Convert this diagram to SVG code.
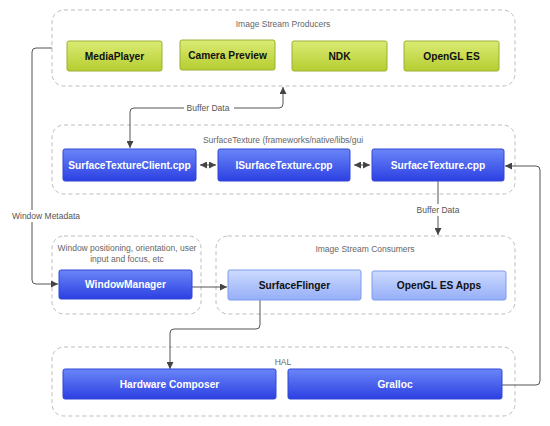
<svg xmlns="http://www.w3.org/2000/svg" width="550" height="426" viewBox="0 0 550 426">
<defs>
<linearGradient id="gGreen" x1="0" y1="0" x2="0" y2="1"><stop offset="0" stop-color="#dbeb74"/><stop offset="1" stop-color="#b6cd30"/></linearGradient>
<linearGradient id="gBlue" x1="0" y1="0" x2="0" y2="1"><stop offset="0" stop-color="#6a86f8"/><stop offset="1" stop-color="#2c3fe2"/></linearGradient>
<linearGradient id="gLight" x1="0" y1="0" x2="0" y2="1"><stop offset="0" stop-color="#cddbff"/><stop offset="1" stop-color="#95aef7"/></linearGradient>
<marker id="arr" viewBox="0 0 10 10" refX="10" refY="5" markerWidth="7" markerHeight="7" orient="auto-start-reverse" markerUnits="userSpaceOnUse"><path d="M0,0 L10,5 L0,10 z" fill="#444"/></marker>
</defs>
<style>
.cont{fill:#fff;stroke:#bdbdbd;stroke-width:1;stroke-dasharray:4 3}
.ctitle{font-family:"Liberation Sans",Arial,sans-serif;font-size:8.5px;fill:#666;text-anchor:middle}
.green{fill:url(#gGreen);stroke:#9cb034;stroke-width:1}
.blue{fill:url(#gBlue);stroke:#3346d6;stroke-width:1}
.light{fill:url(#gLight);stroke:#7f9bee;stroke-width:1}
.t{font-family:"Liberation Sans",Arial,sans-serif;font-size:10.2px;font-weight:bold;text-anchor:middle}
.tw{fill:#fff}
.tk{fill:#111}
.conn{fill:none;stroke:#555;stroke-width:1}
.lbl{font-family:"Liberation Sans",Arial,sans-serif;font-size:8.5px;fill:#555;text-anchor:middle}
</style>
<rect width="550" height="426" fill="#fff"/>

<g id="producers">
<rect class="cont" x="52" y="10" width="463" height="76" rx="12"/>
<text class="ctitle" x="283" y="27">Image Stream Producers</text>
</g>
<g id="surfacetexture-group">
<rect class="cont" x="52" y="125" width="463" height="69" rx="12"/>
<text class="ctitle" x="283" y="143">SurfaceTexture (frameworks/native/libs/gui</text>
</g>
<g id="window-group">
<rect class="cont" x="52" y="236" width="149" height="78" rx="12"/>
<text class="ctitle" x="127" y="251">Window positioning, orientation, user</text>
<text class="ctitle" x="127" y="262">input and focus, etc</text>
</g>
<g id="consumers">
<rect class="cont" x="216" y="236" width="299" height="78" rx="12"/>
<text class="ctitle" x="365" y="252">Image Stream Consumers</text>
</g>
<g id="hal">
<rect class="cont" x="52" y="347" width="463" height="69" rx="12"/>
<text class="ctitle" x="283" y="365">HAL</text>
</g>

<g id="connectors">
<path class="conn" d="M52,48 H36 Q32,48 32,52 V280 Q32,284 36,284 H58" marker-end="url(#arr)"/>
<rect x="12" y="210" width="70" height="12" fill="#fff"/>
<text class="lbl" x="46" y="219">Window Metadata</text>

<path class="conn" d="M130,148 V112 Q130,108 134,108 H279 Q283,108 283,104 V87" marker-start="url(#arr)" marker-end="url(#arr)"/>
<rect x="184" y="102" width="50" height="12" fill="#fff"/>
<text class="lbl" x="208" y="111">Buffer Data</text>

<path class="conn" d="M200,165 H216" marker-start="url(#arr)" marker-end="url(#arr)"/>
<path class="conn" d="M354,165 H370" marker-start="url(#arr)" marker-end="url(#arr)"/>

<path class="conn" d="M438,181 V235" marker-end="url(#arr)"/>
<rect x="414" y="204" width="48" height="12" fill="#fff"/>
<text class="lbl" x="438" y="213">Buffer Data</text>

<path class="conn" d="M502,385 H536 Q540,385 540,381 V170 Q540,166 536,166 H505" marker-end="url(#arr)"/>

<path class="conn" d="M192,287 H227" marker-end="url(#arr)"/>

<path class="conn" d="M260,300 V325 Q260,329 256,329 H174 Q170,329 170,333 V369" marker-end="url(#arr)"/>
</g>

<g id="mediaplayer"><rect class="green" x="67" y="41" width="95" height="30" rx="2"/><text class="t tk" x="114.5" y="59.5">MediaPlayer</text></g>
<g id="camera-preview"><rect class="green" x="180" y="40" width="95" height="30" rx="2"/><text class="t tk" x="227.5" y="58.5">Camera Preview</text></g>
<g id="ndk"><rect class="green" x="292" y="41" width="95" height="30" rx="2"/><text class="t tk" x="339.5" y="59.5">NDK</text></g>
<g id="opengl-es"><rect class="green" x="404" y="41" width="95" height="30" rx="2"/><text class="t tk" x="451.5" y="59.5">OpenGL ES</text></g>

<g id="surfacetextureclient"><rect class="blue" x="63" y="149" width="133" height="32" rx="2"/><text class="t tw" x="129.5" y="168.5">SurfaceTextureClient.cpp</text></g>
<g id="isurfacetexture"><rect class="blue" x="218" y="149" width="132" height="32" rx="2"/><text class="t tw" x="284" y="168.5">ISurfaceTexture.cpp</text></g>
<g id="surfacetexture"><rect class="blue" x="372" y="149" width="132" height="32" rx="2"/><text class="t tw" x="438" y="168.5">SurfaceTexture.cpp</text></g>

<g id="windowmanager"><rect class="blue" x="59" y="270" width="133" height="29" rx="2"/><text class="t tw" x="125.5" y="288">WindowManager</text></g>
<g id="surfaceflinger"><rect class="light" x="228" y="270" width="133" height="30" rx="2"/><text class="t tk" x="294.5" y="288.5">SurfaceFlinger</text></g>
<g id="opengl-es-apps"><rect class="light" x="372" y="271" width="134" height="29" rx="2"/><text class="t tk" x="439" y="289">OpenGL ES Apps</text></g>

<g id="hardware-composer"><rect class="blue" x="63" y="369" width="213" height="30" rx="2"/><text class="t tw" x="169.5" y="387.5">Hardware Composer</text></g>
<g id="gralloc"><rect class="blue" x="288" y="369" width="214" height="30" rx="2"/><text class="t tw" x="395" y="387.5">Gralloc</text></g>
</svg>
